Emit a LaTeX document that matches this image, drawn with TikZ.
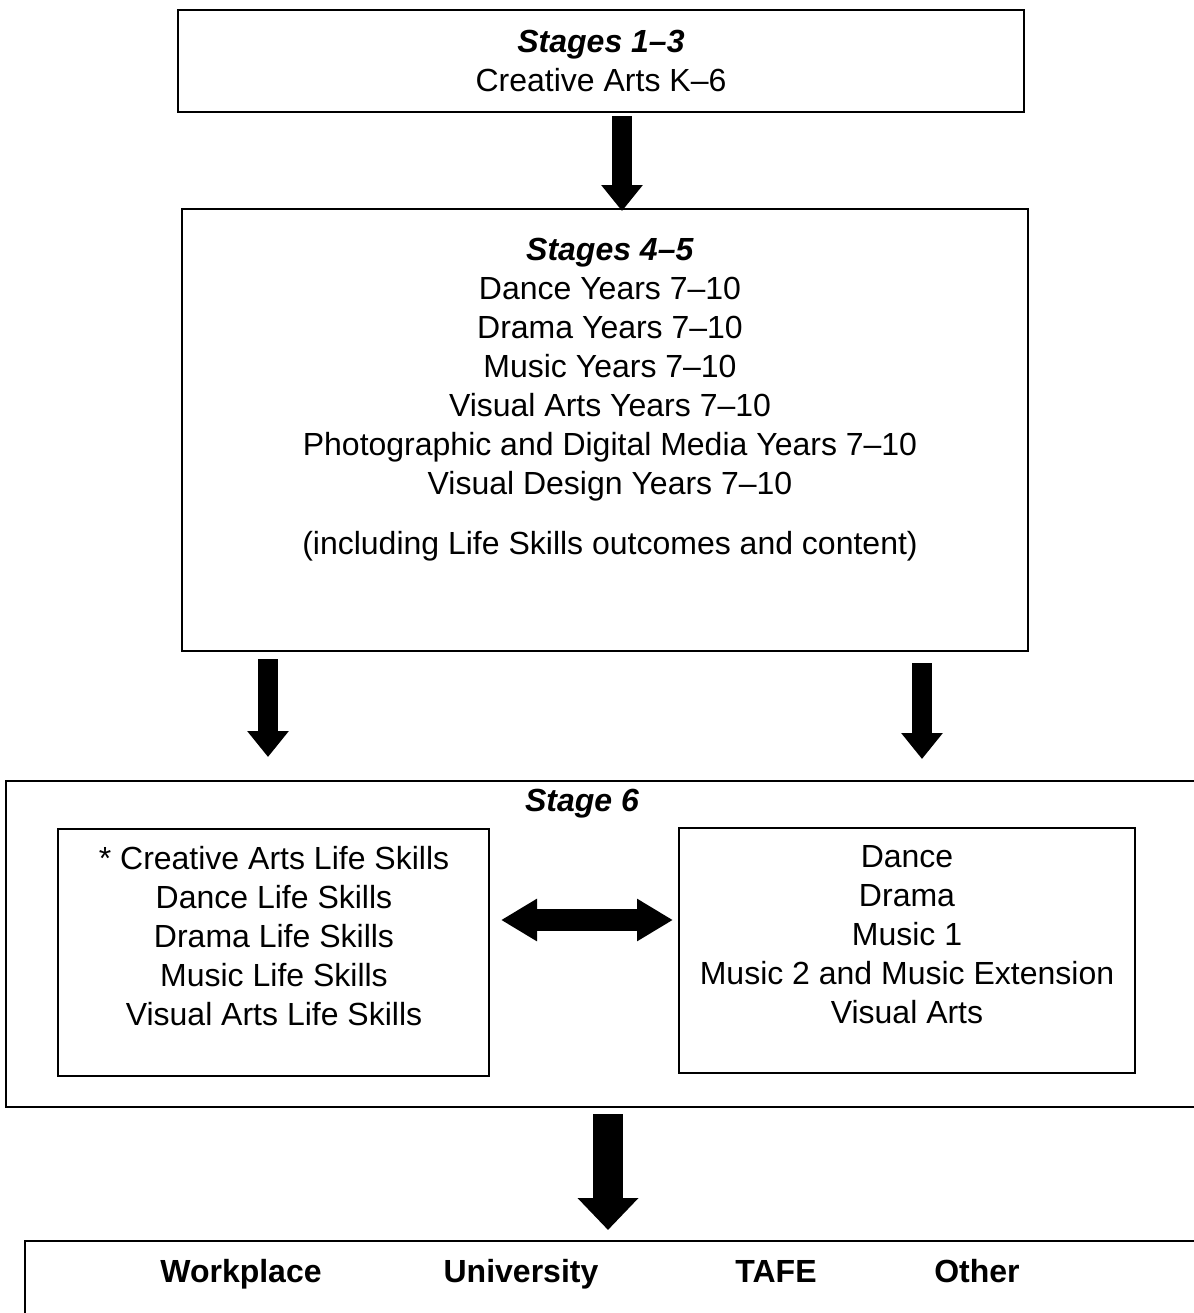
\documentclass[tikz,border=0pt]{standalone}
\usepackage{fontspec}
\setmainfont{Liberation Sans}
\usetikzlibrary{arrows.meta}

\tikzset{
  box/.style={draw, line width=1pt, inner sep=0pt},
  txt/.style={align=center, inner sep=0pt, font=\fontsize{16}{19.5}\selectfont},
  stagehead/.style={inner sep=0pt, font=\fontsize{16}{19.5}\selectfont\bfseries\itshape},
  dest/.style={inner sep=0pt, anchor=base, font=\fontsize{16}{19.5}\selectfont\bfseries},
  fatarrow/.style={line width=10pt, -{Triangle[width=20pt,length=13pt]}},
  bigarrow/.style={line width=15pt, -{Triangle[width=29.5pt,length=16pt]}},
  twoarrow/.style={line width=11pt, {Triangle[width=20pt,length=18pt]}-{Triangle[width=20pt,length=18pt]}}
}

\begin{document}
\begin{tikzpicture}[x=0.5pt, y=-0.5pt]
\useasboundingbox (0,0) rectangle (1194,1313);

% === Stages 1-3 ===
\node[box, txt, minimum width=423pt, minimum height=51pt] (s13) at (601,61) {\textbf{\textit{Stages 1–3}}\\Creative Arts K–6};

% === Stages 4-5 ===
\node[box, minimum width=423pt, minimum height=221pt] (s45) at (605,430) {};
\node[txt] (s45txt) at (610,400) {\textbf{\textit{Stages 4–5}}\\
  Dance Years 7–10\\
  Drama Years 7–10\\
  Music Years 7–10\\
  Visual Arts Years 7–10\\
  Photographic and Digital Media Years 7–10\\
  Visual Design Years 7–10\\[10.5pt]
  (including Life Skills outcomes and content)};

% === Stage 6 ===
\node[box, minimum width=602pt, minimum height=163pt] (s6) at (608,944) {};
\node[stagehead] (s6head) at (582,804) {Stage 6};

\node[box, minimum width=215.5pt, minimum height=123.5pt] (lskills) at (273.5,952.5) {};
\node[txt] (lskillstxt) at (274,936) {* Creative Arts Life Skills\\
  Dance Life Skills\\
  Drama Life Skills\\
  Music Life Skills\\
  Visual Arts Life Skills};

\node[box, minimum width=228pt, minimum height=122.5pt] (courses) at (907,950.5) {};
\node[txt] (coursestxt) at (907,935) {Dance\\
  Drama\\
  Music 1\\
  Music 2 and Music Extension\\
  Visual Arts};

% === Destinations ===
\node[box, minimum width=592.5pt, minimum height=44.5pt] (after) at (617.5,1285.5) {};
\node[dest] (work) at (241,1282) {Workplace};
\node[dest] (uni) at (521,1282) {University};
\node[dest] (tafe) at (776,1282) {TAFE};
\node[dest] (other) at (977,1282) {Other};

% === Arrows ===
\draw[fatarrow, shorten <=1.5pt, shorten >=-1.5pt] ([xshift=10.5pt]s13.south) -- ([xshift=10.5pt]s13.south |- s45.north);
\draw[fatarrow, shorten <=3.5pt, shorten >=11.5pt] ([xshift=-168.5pt]s45.south) -- ([xshift=-168.5pt]s45.south |- s6.north);
\draw[fatarrow, shorten <=5.5pt, shorten >=10.5pt] ([xshift=158.5pt]s45.south) -- ([xshift=158.5pt]s45.south |- s6.north);
\draw[twoarrow, shorten <=5.5pt, shorten >=2.5pt] ([yshift=16.25pt]lskills.east) -- ([yshift=16.25pt]lskills.east -| courses.west);
\draw[bigarrow, shorten <=3pt, shorten >=5pt] (s6.south) -- (s6.south |- after.north);

\end{tikzpicture}
\end{document}
